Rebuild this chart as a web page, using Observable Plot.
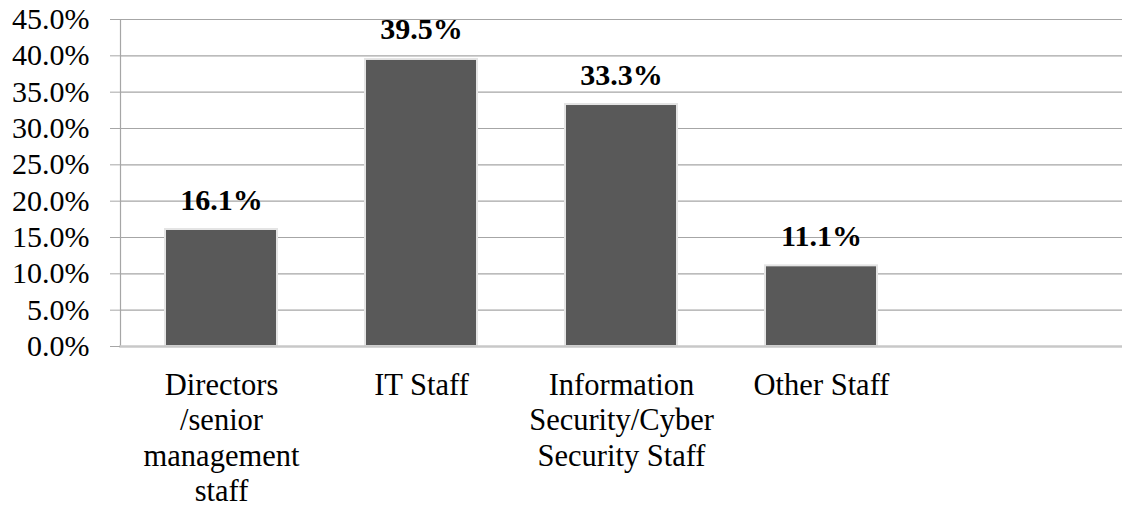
<!DOCTYPE html>
<html>
<head>
<meta charset="utf-8">
<script src="https://cdn.jsdelivr.net/npm/d3@7"></script>
<script src="https://cdn.jsdelivr.net/npm/@observablehq/plot@0.6"></script>
<style>
  html, body { margin: 0; padding: 0; background: #fff; }
  #chart { width: 1122px; height: 507px; }
  #chart svg, #chart svg text { font-family: "Liberation Serif", "Times New Roman", serif !important; }
</style>
</head>
<body>
<div id="chart"></div>
<script>
const categories = [
  "Directors\n/senior\nmanagement\nstaff",
  "IT Staff",
  "Information\nSecurity/Cyber\nSecurity Staff",
  "Other Staff"
];
const values = [16.1, 39.5, 33.3, 11.1];
const yTicks = [0, 5, 10, 15, 20, 25, 30, 35, 40, 45];

const data = categories.map((c, i) => ({category: c, value: values[i]}));
const xDomain = [...categories, ""];
const fontFamily = "Liberation Serif";

const chart = Plot.plot({
  width: 1122,
  height: 507,
  marginLeft: 120,
  marginRight: 0,
  marginTop: 19,
  marginBottom: 161,
  style: {fontFamily, background: "#fff", color: "#000", overflow: "visible"},
  x: {domain: xDomain, paddingInner: 0.441, paddingOuter: 0.2205, label: null},
  y: {domain: [0, 45], label: null},
  marks: [
    Plot.gridY(yTicks, {stroke: "#a6a6a6", strokeOpacity: 1, strokeWidth: 1.2}),
    Plot.barY(data, {x: "category", y: "value", fill: "#595959", stroke: "#e4e4e4", strokeWidth: 2}),
    Plot.frame({anchor: "left", stroke: "#a6a6a6", strokeWidth: 1.2}),
    Plot.frame({anchor: "bottom", stroke: "#c8c8c8", strokeWidth: 2.5}),
    Plot.axisY({
      ticks: yTicks,
      tickFormat: d => d.toFixed(1) + "%",
      tickSize: 10,
      tickPadding: 21,
      stroke: "#a6a6a6",
      fontSize: 30,
      fontFamily,
      fill: "#000",
      label: null
    }),
    Plot.axisX({
      tickSize: 0,
      tickPadding: 24,
      fontSize: 30.5,
      fontFamily,
      lineHeight: 1.15,
      fill: "#000",
      label: null
    }),
    Plot.text(data, {
      x: "category",
      y: "value",
      text: d => d.value.toFixed(1) + "%",
      fontSize: 30,
      fontFamily,
      fontWeight: "bold",
      fill: "#000",
      lineAnchor: "bottom",
      dy: -20
    })
  ]
});
document.getElementById("chart").appendChild(chart);
</script>
</body>
</html>
